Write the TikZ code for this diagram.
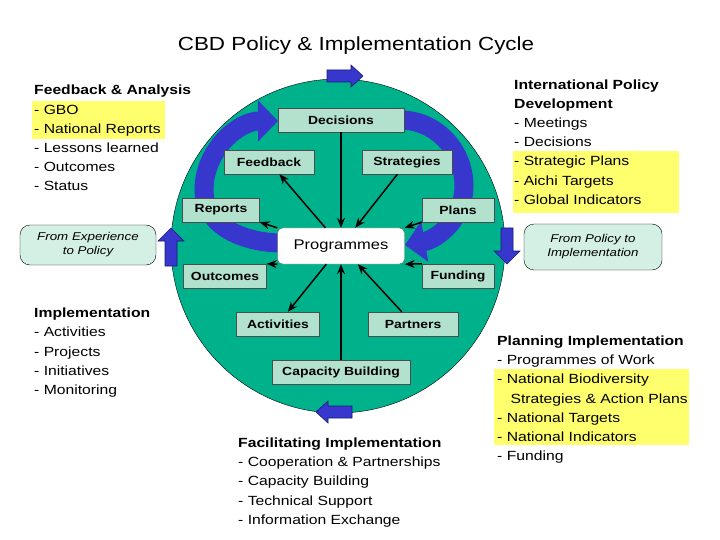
\documentclass[tikz,border=0pt]{standalone}
\usepackage{fontspec}
\setmainfont{Liberation Sans}[FakeStretch=1.18]
\usetikzlibrary{arrows.meta}
\definecolor{teal1}{RGB}{0,178,140}
\definecolor{lgreen}{RGB}{178,226,206}
\definecolor{boxl}{RGB}{212,240,228}
\definecolor{bblue}{RGB}{55,55,205}
\definecolor{dblue}{RGB}{25,25,120}
\definecolor{hyel}{RGB}{255,255,110}
\tikzset{
 lbl/.style={draw=black!70,fill=lgreen,font=\bfseries\fontsize{11.8}{13}\selectfont,inner sep=0pt,minimum height=24pt},
 txt/.style={anchor=base west,inner sep=0pt,font=\fontsize{13.3}{16}\selectfont},
 hd/.style={txt,font=\bfseries\fontsize{13.3}{16}\selectfont},
 sidebox/.style={draw=black,fill=boxl,rounded corners=10pt,align=center,font=\itshape\fontsize{11.3}{14}\selectfont,inner sep=0pt},
 conn/.style={-{Stealth[length=10pt,width=8pt]},line width=1.5pt},
 band/.style={line width=19pt,bblue,-{Triangle[length=20pt,width=40pt]}},
 blk/.style={fill=bblue,draw=dblue,line width=0.6pt},
}
\begin{document}
\begin{tikzpicture}[x=1pt,y=-1pt]
\useasboundingbox (0,0) rectangle (720,540);
% highlights
\fill[hyel] (32,101) rectangle (165,139);
\fill[hyel] (513,151) rectangle (679,213);
\fill[hyel] (494,369) rectangle (689,445);
% title
\node[anchor=base,inner sep=0pt,font=\fontsize{19}{22}\selectfont] (title) at (356,51) {CBD Policy \& Implementation Cycle};
% circle
\node[circle,draw=black,fill=teal1,minimum size=334pt,inner sep=0pt] (circ) at (338,246) {};
% block arrows on the circle
\draw[blk] (327,70) -- (351,70) -- (351,65) -- (363,76) -- (351,87) -- (351,82) -- (327,82) -- cycle;
\draw[blk] (165,266) -- (165,241) -- (158,241) -- (171,228) -- (184,241) -- (177,241) -- (177,266) -- cycle;
\draw[blk] (501,228) -- (501,251) -- (494,251) -- (507,264) -- (520,251) -- (513,251) -- (513,228) -- cycle;
\draw[blk] (352,406) -- (328,406) -- (328,401) -- (316,412) -- (328,423) -- (328,418) -- (352,418) -- cycle;
% curved bands
\coordinate (b1s) at (282,243);
\coordinate (b1m) at (204,190);
\coordinate (b1e) at (278,121);
\draw[band] (b1s) to[out=180,in=270] (b1m) to[out=90,in=180] (b1e);
\coordinate (b2s) at (400,120);
\coordinate (b2m) at (464,186);
\coordinate (b2e) at (405,245);
\draw[band] (b2s) to[out=0,in=90] (b2m) to[out=270,in=10] (b2e);
% nodes
\node[lbl,minimum width=126pt] (dec) at (341,120) {Decisions};
\node[lbl,minimum width=90pt] (fb) at (269,162) {Feedback};
\node[lbl,minimum width=90pt] (str) at (407,162) {Strategies};
\node[lbl,minimum width=77pt] (rep) at (221,210) {Reports};
\node[lbl,minimum width=72pt] (pl) at (458,210) {Plans};
\node[draw=black!60,fill=white,rounded corners=5pt,minimum width=127pt,minimum height=36pt,inner sep=0pt,font=\fontsize{14}{16}\selectfont] (prog) at (341,246) {Programmes};
\node[lbl,minimum width=83pt] (out) at (225,276) {Outcomes};
\node[lbl,minimum width=72pt] (fund) at (458,276) {Funding};
\node[lbl,minimum width=83pt] (act) at (278,324) {Activities};
\node[lbl,minimum width=90pt] (part) at (413,324) {Partners};
\node[lbl,minimum width=138pt] (cap) at (341,372) {Capacity Building};
% connectors
\draw[conn] (dec) -- (prog);
\draw[conn] (str) -- (prog);
\draw[conn] (pl.south west) -- (prog.north east);
\draw[conn] (fund.north west) -- (prog.south east);
\draw[conn] (part) -- (prog);
\draw[conn] (cap) -- (prog);
\draw[conn] (prog) -- (fb);
\draw[conn] (prog.north west) -- (rep.south east);
\draw[conn] (prog.south west) -- (out.north east);
\draw[conn] (prog) -- (act);
% side boxes
\node[sidebox,minimum width=136pt,minimum height=40pt] (exp) at (88,245) {From Experience\\to Policy};
\node[sidebox,minimum width=138pt,minimum height=46pt] (pol) at (593,247) {From Policy to\\Implementation};
% text blocks
\node[hd] (t1) at (34,95) {Feedback \& Analysis};
\node[txt] (t1a) at (34,115) {- GBO};
\node[txt] (t1b) at (34,134) {- National Reports};
\node[txt] (t1c) at (34,153) {- Lessons learned};
\node[txt] (t1d) at (34,172) {- Outcomes};
\node[txt] (t1e) at (34,191) {- Status};
\node[hd] (t2) at (514,90) {International Policy};
\node[hd] (t2x) at (514,109) {Development};
\node[txt] (t2a) at (514,128) {- Meetings};
\node[txt] (t2b) at (514,147) {- Decisions};
\node[txt] (t2c) at (514,166) {- Strategic Plans};
\node[txt] (t2d) at (514,186) {- Aichi Targets};
\node[txt] (t2e) at (514,205) {- Global Indicators};
\node[hd] (t3) at (34,317) {Implementation};
\node[txt] (t3a) at (34,336) {- Activities};
\node[txt] (t3b) at (34,356) {- Projects};
\node[txt] (t3c) at (34,375) {- Initiatives};
\node[txt] (t3d) at (34,394) {- Monitoring};
\node[hd] (t4) at (497,345) {Planning Implementation};
\node[txt] (t4a) at (497,364) {- Programmes of Work};
\node[txt] (t4b) at (497,383) {- National Biodiversity};
\node[txt] (t4c) at (506,403) {\ Strategies \& Action Plans};
\node[txt] (t4d) at (497,422) {- National Targets};
\node[txt] (t4e) at (497,441) {- National Indicators};
\node[txt] (t4f) at (497,460) {- Funding};
\node[hd] (t5) at (238,447) {Facilitating Implementation};
\node[txt] (t5a) at (238,466) {- Cooperation \& Partnerships};
\node[txt] (t5b) at (238,485) {- Capacity Building};
\node[txt] (t5c) at (238,505) {- Technical Support};
\node[txt] (t5d) at (238,524) {- Information Exchange};
\end{tikzpicture}
\end{document}
